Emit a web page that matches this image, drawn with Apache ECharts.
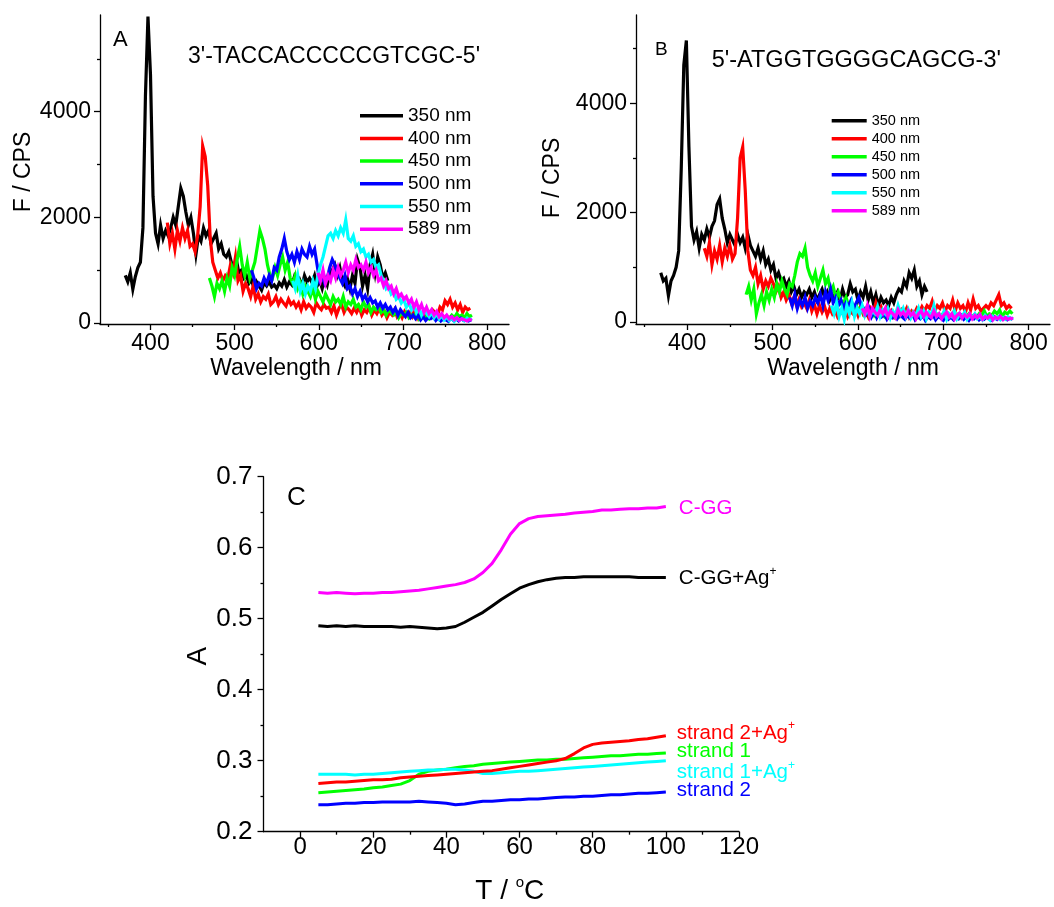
<!DOCTYPE html>
<html><head><meta charset="utf-8">
<script src="https://cdn.jsdelivr.net/npm/echarts@6/dist/echarts.min.js"></script>
<style>html,body{margin:0;padding:0;background:#fff}#c{width:1054px;height:907px}</style>
</head><body><div id="c"></div>
<script>
const FONT = "'Liberation Sans', Arial, sans-serif";
const STEP_NM = 3;
const excitationNames = ['350 nm','400 nm','450 nm','500 nm','550 nm','589 nm'];
const excitationColors = ['#000000','#ff0000','#00ff00','#0000ff','#00ffff','#ff00ff'];

// ---- Panel A: 3'-TACCACCCCCGTCGC-5' (start wavelength, 3 nm step) ----
const A350_start = 370;
const A350 = [900,780,950,640,880,1050,1150,1800,4300,5800,4700,2400,
  1700,1500,1850,1600,1750,1650,1800,2000,1850,2200,2550,2400,2100,1850,2000,1700,
  1300,1650,1550,1800,1650,1750,1500,1600,1700,1400,1500,1300,1250,1350,1150,1100,
  1200,950,1000,850,900,750,820,650,780,700,620,760,700,780,680,720,
  650,760,700,820,680,780,720,880,760,830,700,900,780,850,760,900,
  700,800,650,850,720,950,1000,1100,900,1050,800,700,850,650,900,750,
  1200,1050,700,900,650,1100,1300,950,1250,1100,850,950,800];
const A400_start = 420;
const A400 = [1900,1500,1700,1400,1750,1550,1800,1600,1750,1450,1500,1350,1650,2200,3350,3150,
  2600,1600,1150,1000,850,950,800,900,850,1100,950,1250,800,900,600,750,
  650,500,700,450,550,400,500,450,550,350,400,500,350,450,380,320,
  450,350,400,300,380,250,400,280,350,300,200,380,300,250,350,280,
  300,200,320,150,280,350,200,300,250,180,280,200,300,150,250,200,
  300,150,250,180,280,150,220,100,200,150,250,120,200,100,220,150,
  200,120,250,100,200,180,120,200,150,250,200,150,300,250,420,350,
  450,300,380,250,350,200,300,250,280];
const A450_start = 470;
const A450 = [850,700,500,750,650,800,600,850,700,1050,900,1200,1450,1100,900,1150,
  850,1000,1150,1450,1750,1600,1400,1100,900,850,1050,900,1100,1250,1000,1150,
  850,750,900,650,750,550,700,600,500,650,450,600,500,400,550,450,
  350,500,400,450,350,500,300,400,350,450,300,350,250,400,300,350,
  200,300,250,300,200,250,150,250,200,150,220,100,180,150,200,100,
  150,120,180,80,150,100,120,80,150,100,120,80,150,100,130,90,
  150,100,180,120,150,100,180,120,150];
const A500_start = 520;
const A500 = [1000,850,650,750,700,850,750,900,800,1050,1000,1250,1400,1600,1350,1200,
  1300,1150,1350,1200,1400,1300,1250,1450,1300,1400,1100,800,900,750,850,1050,
  1200,1100,950,850,750,900,650,700,550,650,500,600,450,520,400,480,
  380,420,300,380,280,350,250,300,200,280,150,250,180,120,200,100,
  150,80,150,60,120,50,100,80,120,50,100,40,80,60,30,100,
  50,80,40,90,50,70,40,60];
const A550_start = 569;
const A550 = [800,650,900,600,750,550,700,600,800,650,900,1100,1250,1450,1650,1700,
  1600,1750,1650,1800,1700,1950,1600,1550,1650,1450,1500,1350,1400,1250,1300,1150,
  1200,1050,1100,900,800,650,700,550,600,450,500,380,450,300,380,250,
  330,200,280,150,250,180,120,200,100,180,80,150,60,120,50,100,
  30,90,50,80,40,90,60,80];
const A589_start = 599;
const A589 = [950,800,1000,750,900,800,1000,850,1050,900,1000,1150,950,1100,1000,1200,
  1050,1100,1000,1150,950,1050,900,1000,800,850,700,800,650,700,550,650,
  500,550,450,500,380,450,300,400,250,350,200,300,180,250,150,220,
  120,180,100,150,80,120,60,100,50,80,60,40,70,50];

// ---- Panel B: 5'-ATGGTGGGGCAGCG-3' ----
const B350_start = 369;
const B350 = [900,750,800,480,750,850,1000,1300,2800,4700,5150,3200,1750,1500,1650,1350,
  1600,1500,1700,1550,1750,1850,2150,2250,1900,1700,1450,1600,1500,1400,1600,1450,
  1550,1350,1600,1400,1300,1200,1350,1150,1300,1050,1150,950,1050,800,900,750,
  800,650,750,550,650,500,600,450,550,500,600,450,550,400,500,600,
  450,550,400,500,450,550,400,600,450,500,700,550,600,400,550,450,
  650,400,550,350,500,300,450,350,400,300,450,350,500,600,550,750,
  650,900,800,950,650,750,500,650,550];
const B400_start = 420;
const B400 = [1350,1200,1450,1050,1300,1150,1400,1100,1350,1200,1400,1150,1250,1900,3000,3200,
  2400,1300,950,850,1000,700,850,600,750,650,800,700,550,650,450,550,
  400,500,350,450,300,420,280,350,250,400,200,320,150,300,180,280,
  120,250,150,220,100,200,150,250,100,200,150,250,120,280,150,220,
  100,250,180,350,200,280,150,250,120,200,100,180,120,220,150,250,
  100,200,150,250,180,280,200,300,250,380,200,300,250,350,200,300,
  250,400,200,350,250,300,180,350,220,420,250,300,200,250,300,250,
  350,300,400,500,300,350,250,300,250];
const B450_start = 469;
const B450 = [500,650,400,600,150,350,500,300,550,400,600,450,700,550,750,600,
  500,700,650,850,1100,1250,1200,1350,1000,850,750,900,650,800,950,700,
  800,550,650,450,550,400,350,450,300,350,250,300,200,280,150,250,
  180,220,120,200,150,180,100,160,120,180,90,150,100,170,80,140,
  100,160,60,130,100,150,80,130,100,170,80,140,100,160,90,150,
  100,180,120,150,80,140,100,150,90,130,80,150,120,200,100,150,
  120,200,150,220,100,180,150,200,150];
const B500_start = 520;
const B500 = [450,300,500,250,400,300,450,250,380,300,450,350,500,300,550,400,
  600,350,450,300,400,250,350,300,400,250,350,450,300,250,150,250,
  100,200,80,180,100,150,50,120,80,150,60,130,90,50,120,70,
  140,40,100,60,120,30,100,60,130,40,100,70,30,110,50,90,
  40,100,60,120,50,90,30,100,60,110,40,80,50,100,60,30,
  90,50,100,60,80,40,70,50];
const B550_start = 569;
const B550 = [300,150,350,100,250,50,300,150,350,100,250,150,300,120,250,100,
  200,150,280,100,220,150,250,80,200,120,300,150,250,100,220,80,
  180,120,250,100,200,60,180,120,300,100,150,80,200,50,150,100,
  200,60,140,100,180,50,120,80,150,60,100,40,120,70,30,100,
  60,90,40,80,50,90,60,70];
const B589_start = 605;
const B589 = [250,150,300,100,250,180,120,220,150,250,100,200,150,80,220,130,
  180,100,200,120,170,60,150,200,100,180,120,80,200,100,150,60,
  130,180,90,150,50,120,160,70,130,90,150,60,120,80,140,50,
  100,70,120,40,90,60,100,40,80,50,70,60];

// ---- Panel C: melting curves, T from 5 °C in 2.5 °C steps ----
const T_start = 5, T_step = 2.5;
const C_GG = [0.537,0.536,0.537,0.536,0.535,0.536,0.536,0.537,0.537,0.538,0.539,0.540,0.542,0.544,0.546,0.548,0.551,0.556,0.565,0.578,0.597,0.619,0.634,0.641,0.644,0.645,0.646,0.647,0.649,0.650,0.651,0.653,0.653,0.654,0.655,0.655,0.656,0.656,0.658];
const C_GG_Ag = [0.490,0.489,0.490,0.489,0.490,0.489,0.489,0.489,0.489,0.488,0.489,0.488,0.487,0.486,0.487,0.489,0.495,0.502,0.509,0.518,0.527,0.535,0.543,0.548,0.552,0.555,0.557,0.558,0.558,0.559,0.559,0.559,0.559,0.559,0.559,0.558,0.558,0.558,0.558];
const strand2_Ag = [0.268,0.269,0.270,0.270,0.271,0.272,0.273,0.273,0.274,0.276,0.277,0.278,0.279,0.280,0.281,0.282,0.283,0.284,0.285,0.286,0.288,0.290,0.292,0.294,0.296,0.298,0.300,0.303,0.310,0.318,0.323,0.325,0.326,0.327,0.328,0.330,0.331,0.333,0.335];
const strand1 = [0.255,0.256,0.257,0.258,0.259,0.260,0.262,0.263,0.265,0.267,0.272,0.281,0.285,0.287,0.288,0.290,0.292,0.293,0.295,0.296,0.297,0.298,0.299,0.300,0.301,0.301,0.302,0.302,0.303,0.304,0.305,0.306,0.307,0.307,0.308,0.309,0.309,0.310,0.311];
const strand1_Ag = [0.281,0.281,0.281,0.281,0.280,0.281,0.281,0.282,0.283,0.284,0.285,0.286,0.287,0.287,0.288,0.288,0.287,0.285,0.282,0.282,0.283,0.284,0.285,0.285,0.286,0.287,0.288,0.289,0.290,0.291,0.292,0.293,0.294,0.295,0.296,0.297,0.298,0.299,0.300];
const strand2 = [0.238,0.238,0.239,0.240,0.240,0.241,0.241,0.242,0.242,0.242,0.242,0.243,0.242,0.241,0.240,0.238,0.239,0.241,0.243,0.243,0.244,0.245,0.245,0.246,0.246,0.247,0.248,0.249,0.249,0.250,0.250,0.251,0.252,0.252,0.253,0.254,0.254,0.255,0.256];

// tick labels
const specTicksX = [400,500,600,700,800];
const specMinorX = [350,450,550,650,750];
const specTicksY = [0,2000,4000];
const specMinorY = [1000,3000,5000];
const tTicks = [0,20,40,60,80,100,120];
const tMinor = [10,30,50,70,90,110];
const aTicks = [0.2,0.3,0.4,0.5,0.6,0.7];
const aMinor = [0.25,0.35,0.45,0.55,0.65];

function pairs(start, step, vals){ return vals.map((v,i)=>[start+i*step, v]); }

const AX = {color:'#000', width:1.3};
function axis(o){
  const a = {
    gridIndex:o.grid, type:'value', min:o.min, max:o.max, position:o.pos,
    axisLine:{show:!o.minor, onZero:false, lineStyle:AX},
    axisTick:{show:true, inside:false, length:o.minor?3:6, customValues:o.ticks, lineStyle:AX},
    axisLabel:{show:!o.minor, customValues:o.ticks, margin:o.margin, fontSize:o.fs, fontFamily:FONT, color:'#000',
      formatter:o.fmt || (v=>String(v))},
    splitLine:{show:false}, minorTick:{show:false}
  };
  if(o.name){
    a.name=o.name; a.nameLocation='middle'; a.nameGap=o.nameGap;
    a.nameTextStyle=Object.assign({fontSize:o.nfs, fontFamily:FONT, color:'#000', padding:o.npad||0}, o.nts||{});
  }
  return a;
}

const xAxis = [
  axis({grid:0,min:340,max:826,pos:'bottom',ticks:specTicksX,margin:8,fs:23,name:'Wavelength / nm',nameGap:33,nfs:23,npad:[0,17,0,0]}),
  axis({grid:0,min:340,max:826,pos:'bottom',ticks:specMinorX,minor:true}),
  axis({grid:1,min:340,max:825,pos:'bottom',ticks:specTicksX,margin:8,fs:23,name:'Wavelength / nm',nameGap:33,nfs:23,npad:[0,0,0,20]}),
  axis({grid:1,min:340,max:825,pos:'bottom',ticks:specMinorX,minor:true}),
  axis({grid:2,min:-10,max:120,pos:'bottom',ticks:tTicks,margin:4,fs:24,name:'{t|T / }{s|o}{t|C}',nameGap:44,nfs:28,npad:[0,0,0,17],
    nts:{rich:{t:{fontSize:28,fontFamily:FONT,color:'#000',lineHeight:32},s:{fontSize:15,fontFamily:FONT,color:'#000',lineHeight:15,verticalAlign:'top'}}}}),
  axis({grid:2,min:-10,max:120,pos:'bottom',ticks:tMinor,minor:true})
];
const yAxis = [
  axis({grid:0,min:-19,max:5830,pos:'left',ticks:specTicksY,margin:9,fs:23,name:'F / CPS',nameGap:65,nfs:23,npad:[0,5,0,0]}),
  axis({grid:0,min:-19,max:5830,pos:'left',ticks:specMinorY,minor:true}),
  axis({grid:1,min:-37,max:5615,pos:'left',ticks:specTicksY,margin:9,fs:23,name:'F / CPS',nameGap:72,nfs:23,npad:[0,17,0,0]}),
  axis({grid:1,min:-37,max:5615,pos:'left',ticks:specMinorY,minor:true}),
  axis({grid:2,min:0.2,max:0.7,pos:'left',ticks:aTicks,margin:11,fs:26,fmt:v=>v.toFixed(1),name:'A',nameGap:51,nfs:28,npad:[0,4,0,0]}),
  axis({grid:2,min:0.2,max:0.7,pos:'left',ticks:aMinor,minor:true})
];

const series = [];
const specA = [[A350_start,A350],[A400_start,A400],[A450_start,A450],[A500_start,A500],[A550_start,A550],[A589_start,A589]];
const specB = [[B350_start,B350],[B400_start,B400],[B450_start,B450],[B500_start,B500],[B550_start,B550],[B589_start,B589]];
[specA, specB].forEach((set, p)=>{
  set.forEach((s,i)=>{
    series.push({name:excitationNames[i], type:'line', xAxisIndex:p*2, yAxisIndex:p*2,
      data:pairs(s[0], STEP_NM, s[1]), showSymbol:false, symbol:'none',
      lineStyle:{width:3.2, color:excitationColors[i], join:'miter'}, itemStyle:{color:excitationColors[i]},
      animation:false, z:2+i});
  });
});

const cSeries = [
  {name:'C-GG', vals:C_GG, color:'#ff00ff', label:'{n|C-GG}', off:[13,2]},
  {name:'C-GG+Ag+', vals:C_GG_Ag, color:'#000000', label:'{n|C-GG+Ag}{s|+}', off:[13,1]},
  {name:'strand 1', vals:strand1, color:'#00ff00', label:'{n|strand 1}', off:[11,-1.5]},
  {name:'strand 1+Ag+', vals:strand1_Ag, color:'#00ffff', label:'{n|strand 1+Ag}{s|+}', off:[11,12]},
  {name:'strand 2', vals:strand2, color:'#0000ff', label:'{n|strand 2}', off:[11,-2]},
  {name:'strand 2+Ag+', vals:strand2_Ag, color:'#ff0000', label:'{n|strand 2+Ag}{s|+}', off:[11,-3]}
];
cSeries.forEach((c,i)=>{
  series.push({name:c.name, type:'line', xAxisIndex:4, yAxisIndex:4, data:pairs(T_start, T_step, c.vals),
    showSymbol:false, symbol:'none', smooth:false, lineStyle:{width:3, color:c.color}, itemStyle:{color:c.color},
    animation:false, z:2+i,
    endLabel:{show:true, distance:0, offset:c.off, formatter:c.label,
      rich:{n:{fontSize:20.5, fontFamily:FONT, color:c.color, lineHeight:26},
            s:{fontSize:12, fontFamily:FONT, color:c.color, lineHeight:12, verticalAlign:'top'}}}
  });
});

function legend(left, top, w, fs, lh, gap){
  return {data:excitationNames, orient:'vertical', left:left, top:top, padding:0, icon:'rect',
    itemWidth:w, itemHeight:3.5, itemGap:gap, selectedMode:false,
    textStyle:{fontSize:fs, lineHeight:lh, fontFamily:FONT, color:'#000'}};
}

const option = {
  backgroundColor:'#fff', animation:false,
  grid:[
    {left:100, top:15, width:409, height:309},
    {left:636, top:15, width:414, height:309},
    {left:263.5, top:476.7, width:475.5, height:355}
  ],
  xAxis:xAxis, yAxis:yAxis, series:series,
  legend:[legend(360,105.7,43,19,20,2.7), legend(831.7,112.7,35,14.5,16,2)],
  graphic:[
    {type:'text', left:113, top:29, style:{text:'A', fontSize:22, fontFamily:FONT, fill:'#000'}},
    {type:'text', left:188, top:45, style:{text:"3'-TACCACCCCCGTCGC-5'", fontSize:23, fontFamily:FONT, fill:'#000'}},
    {type:'text', left:655, top:40, style:{text:'B', fontSize:19, fontFamily:FONT, fill:'#000'}},
    {type:'text', left:711.7, top:49, style:{text:"5'-ATGGTGGGGCAGCG-3'", fontSize:23.5, fontFamily:FONT, fill:'#000'}},
    {type:'text', left:287, top:484.5, style:{text:'C', fontSize:26, fontFamily:FONT, fill:'#000'}}
  ]
};
const chart = echarts.init(document.getElementById('c'), null, {renderer:'canvas'});
chart.setOption(option);
</script>
</body></html>
